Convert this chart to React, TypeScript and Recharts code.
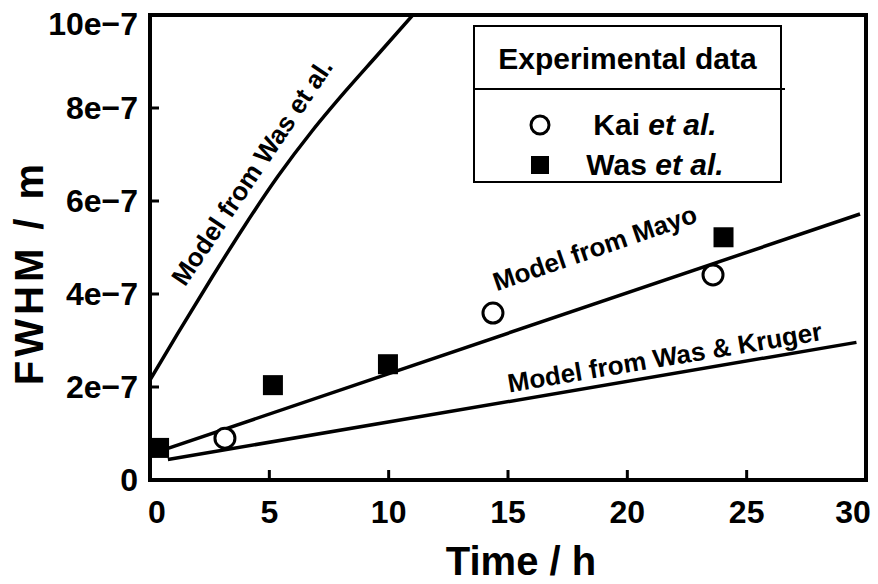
import React from 'react';
import {
  ComposedChart,
  Legend,
  Line,
  ReferenceArea,
  ReferenceDot,
  Scatter,
  XAxis,
  YAxis,
} from 'recharts';

const FONT = '"Liberation Sans", Arial, Helvetica, sans-serif';

// axis ticks
const xTicks = [0, 5, 10, 15, 20, 25, 30];
const yTicks = [0, 2e-7, 4e-7, 6e-7, 8e-7, 1e-6];
const yTickLabels = ['0', '2e\u22127', '4e\u22127', '6e\u22127', '8e\u22127', '10e\u22127'];

// model curves (time in h, FWHM in m)
const wasModelTime = [0, 1.17, 2.6, 3.98, 5.36, 6.8, 8.17, 9.55, 11.1];
const wasModelFwhm = [2.15e-7, 3.16e-7, 4.36e-7, 5.48e-7, 6.53e-7, 7.51e-7, 8.35e-7, 9.15e-7, 1.005e-6];
const mayoTime = [0.75, 29.75];
const mayoFwhm = [0.68e-7, 5.72e-7];
const krugerTime = [0.75, 29.6];
const krugerFwhm = [0.44e-7, 2.96e-7];

// experimental data
const kaiTime = [3.14, 14.37, 23.59];
const kaiFwhm = [0.9e-7, 3.59e-7, 4.41e-7];
const wasTime = [0.38, 5.15, 9.97, 24.03];
const wasFwhm = [0.69e-7, 2.04e-7, 2.49e-7, 5.22e-7];

// text along the model curves
const curveLabels = [
  { text: 'Model from Was et al.', t: 4.27, v: 6.62e-7, angle: -56 },
  { text: 'Model from Mayo', t: 18.64, v: 4.99e-7, angle: -19 },
  { text: 'Model from Was & Kruger', t: 21.57, v: 2.64e-7, angle: -9.5 },
];

const zip = (t: number[], v: number[]) => t.map((x, i) => ({ t: x, v: v[i] }));

const wasModel = zip(wasModelTime, wasModelFwhm);
const mayoModel = zip(mayoTime, mayoFwhm);
const krugerModel = zip(krugerTime, krugerFwhm);
const kaiData = zip(kaiTime, kaiFwhm);
const wasData = zip(wasTime, wasFwhm);

function XTick({ x, y, payload }: any) {
  const v = payload.value;
  const nudge = v === 0 ? 7 : v === 30 ? -13 : 0;
  return (
    <g>
      {v > 0 && v < 30 && <line x1={x} y1={y} x2={x} y2={y - 10} stroke="#000" strokeWidth={3} />}
      <text x={x + nudge} y={y + 43} textAnchor="middle" fontFamily={FONT} fontWeight="bold" fontSize={32} fill="#000">
        {v}
      </text>
    </g>
  );
}

function YTick({ x, y, payload }: any) {
  const i = yTicks.indexOf(payload.value);
  const v = payload.value;
  const shift = i === yTicks.length - 1 ? 9 : 0;
  return (
    <g>
      {i > 0 && i < yTicks.length - 1 && <line x1={x} y1={y} x2={x + 9} y2={y} stroke="#000" strokeWidth={3} />}
      <text x={x - 12} y={y + shift + 11} textAnchor="end" fontFamily={FONT} fontWeight="bold" fontSize={32} fill="#000">
        {yTickLabels[i] ?? String(v)}
      </text>
    </g>
  );
}

function XTitle({ viewBox }: any) {
  const cx = viewBox.x + viewBox.width / 2 + 13;
  return (
    <text x={cx} y={viewBox.y + 95} textAnchor="middle" fontFamily={FONT} fontWeight="bold" fontSize={40} fill="#000">
      Time / h
    </text>
  );
}

function YTitle({ viewBox }: any) {
  const cx = viewBox.x + 29;
  const cy = viewBox.y + viewBox.height / 2 + 25;
  return (
    <text
      x={cx}
      y={cy}
      transform={`rotate(-90, ${cx}, ${cy})`}
      textAnchor="middle"
      dominantBaseline="central"
      fontFamily={FONT}
      fontWeight="bold"
      fontSize={40}
      letterSpacing={4}
      fill="#000"
    >
      FWHM / m
    </text>
  );
}

const OpenCircle = ({ cx, cy }: any) => (
  <circle cx={cx} cy={cy} r={10} fill="#fff" stroke="#000" strokeWidth={3} />
);

const FilledSquare = ({ cx, cy }: any) => <rect x={cx - 10} y={cy - 10} width={20} height={20} fill="#000" />;

const curveText = (text: string, angle: number) => ({ cx, cy }: any) => (
  <text
    x={cx}
    y={cy}
    transform={`rotate(${angle}, ${cx}, ${cy})`}
    textAnchor="middle"
    dominantBaseline="central"
    fontFamily={FONT}
    fontWeight="bold"
    fontSize={26}
    fill="#000"
  >
    {text}
  </text>
);

const legendRows = [
  { name: 'Kai', marker: 'circle' },
  { name: 'Was', marker: 'square' },
];

function LegendBox() {
  return (
    <div
      style={{
        position: 'relative',
        width: 309,
        height: 158,
        border: '2px solid #000',
        boxSizing: 'border-box',
        background: '#fff',
        fontFamily: FONT,
        fontWeight: 'bold',
        color: '#000',
      }}
    >
      <div
        style={{
          position: 'absolute',
          left: 0,
          right: 0,
          top: 0,
          height: 63,
          lineHeight: '63px',
          textAlign: 'center',
          fontSize: 30,
        }}
      >
        Experimental data
      </div>
      <div style={{ position: 'absolute', left: -2, right: -5, top: 61, borderTop: '2px solid #000' }} />
      {legendRows.map((r, i) => (
        <div key={r.name} style={{ position: 'absolute', left: 0, right: 0, top: 98 + i * 40 - 20, height: 40 }}>
          <svg width={26} height={26} style={{ position: 'absolute', left: 52, top: 7 }}>
            {r.marker === 'circle' ? (
              <circle cx={13} cy={13} r={9} fill="#fff" stroke="#000" strokeWidth={3} />
            ) : (
              <rect x={4} y={4} width={18} height={18} fill="#000" />
            )}
          </svg>
          <div
            style={{
              position: 'absolute',
              left: 90,
              width: 180,
              top: 0,
              height: 40,
              lineHeight: '40px',
              textAlign: 'center',
              fontSize: 30,
            }}
          >
            {r.name} <i>et al.</i>
          </div>
        </div>
      ))}
    </div>
  );
}

export default function App() {
  return (
    <div style={{ position: 'absolute', left: 0, top: 0, width: 878, height: 584, background: '#fff' }}>
      <ComposedChart width={878} height={584} margin={{ top: 15, right: 12, left: 0, bottom: 0 }}>
        <XAxis
          type="number"
          dataKey="t"
          domain={[0, 30]}
          ticks={xTicks}
          interval={0}
          height={104}
          axisLine={false}
          tickLine={false}
          tickSize={0}
          tickMargin={0}
          tick={<XTick />}
          label={<XTitle />}
          allowDataOverflow
        />
        <YAxis
          type="number"
          dataKey="v"
          domain={[0, 1e-6]}
          ticks={yTicks}
          interval={0}
          width={150}
          axisLine={false}
          tickLine={false}
          tickSize={0}
          tickMargin={0}
          tick={<YTick />}
          label={<YTitle />}
          allowDataOverflow
        />
        <ReferenceArea x1={0} x2={30} y1={0} y2={1e-6} fill="none" fillOpacity={0} stroke="#000" strokeWidth={4} />
        <Line data={wasModel} dataKey="v" type="monotone" stroke="#000" strokeWidth={3.5} dot={false} isAnimationActive={false} />
        <Line data={mayoModel} dataKey="v" type="linear" stroke="#000" strokeWidth={3.5} dot={false} isAnimationActive={false} />
        <Line data={krugerModel} dataKey="v" type="linear" stroke="#000" strokeWidth={3.5} dot={false} isAnimationActive={false} />
        <Scatter name="Was" data={wasData} dataKey="v" shape={<FilledSquare />} isAnimationActive={false} />
        <Scatter name="Kai" data={kaiData} dataKey="v" shape={<OpenCircle />} isAnimationActive={false} />
        {curveLabels.map((l) => (
          <ReferenceDot key={l.text} x={l.t} y={l.v} r={0} shape={curveText(l.text, l.angle)} />
        ))}
        <Legend
          layout="horizontal"
          verticalAlign="middle"
          content={<LegendBox />}
          wrapperStyle={{ left: 473, top: 25, width: 309, height: 158 }}
        />
      </ComposedChart>
    </div>
  );
}
